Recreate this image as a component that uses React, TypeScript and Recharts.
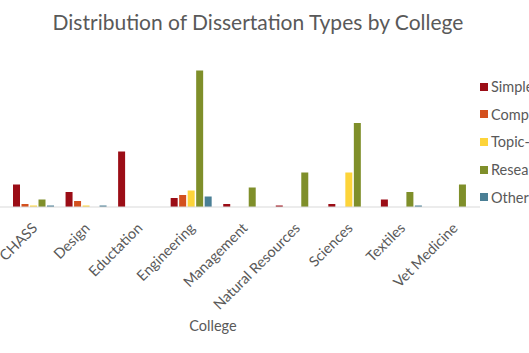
import { BarChart, Bar, XAxis, YAxis, Legend } from 'recharts'

const colleges = [
  'CHASS',
  'Design',
  'Eductation',
  'Engineering',
  'Management',
  'Natural Resources',
  'Sciences',
  'Textiles',
  'Vet Medicine',
]

const simpleTraditional = [15, 10, 37, 6, 2, 1, 2, 5, 0]
const complexTraditional = [2, 4, 0, 8, 0, 0, 0, 0, 0]
const topicBased = [1, 1, 0, 11, 0, 0, 23, 0, 0]
const researchArticles = [5, 0, 0, 91, 13, 23, 56, 10, 15]
const other = [1, 1, 0, 7, 0, 0, 0, 1, 0]

const seriesNames = ['Simple traditional', 'Complex traditional', 'Topic-based', 'Research articles', 'Other']
const colors = ['#9b0d16', '#d3501e', '#fdd43a', '#7f8f2a', '#4a7f95']

const data = colleges.map((college, i) => ({
  college,
  s0: simpleTraditional[i],
  s1: complexTraditional[i],
  s2: topicBased[i],
  s3: researchArticles[i],
  s4: other[i],
}))

const FONT = 'Lato, "Open Sans", sans-serif'
const GREY = '#595959'

// labels end a little right of the category centre, rotated like Excel's
function CollegeTick(props: any) {
  const { x, y, payload } = props
  return (
    <g transform={`translate(${x + 5},${y + 22})`}>
      <text x={0} y={0} textAnchor="end" transform="rotate(-45)" fontSize={14.5} fontFamily={FONT} fill={GREY}>
        {payload.value}
      </text>
    </g>
  )
}

function LegendContent(props: any) {
  const { payload } = props
  return (
    <ul style={{ listStyle: 'none', margin: 0, padding: 0, whiteSpace: 'nowrap' }}>
      {payload.map((item: any) => (
        <li
          key={item.value}
          style={{ height: 27.6, display: 'flex', alignItems: 'center', fontFamily: FONT, fontSize: 14.5, color: GREY }}
        >
          <span
            style={{ display: 'inline-block', flexShrink: 0, width: 8, height: 8, background: item.color, marginRight: 3 }}
          />
          {item.value}
        </li>
      ))}
    </ul>
  )
}

export default function App() {
  return (
    <div style={{ position: 'absolute', left: 0, top: 0, width: 529, height: 353, overflow: 'hidden', background: '#fff' }}>
      <div
        style={{
          position: 'absolute',
          left: 0,
          top: 9,
          width: 516,
          textAlign: 'center',
          fontFamily: FONT,
          fontSize: 21,
          color: GREY,
          zIndex: 1,
        }}
      >
        Distribution of Dissertation Types by College
      </div>
      <BarChart
        width={529}
        height={353}
        data={data}
        margin={{ top: 57, right: 0, left: 0, bottom: 0 }}
        barCategoryGap={6}
        barGap={1.5}
      >
        <XAxis
          dataKey="college"
          height={146}
          interval={0}
          padding={{ left: 7, right: 0 }}
          tickLine={false}
          tickSize={0}
          tickMargin={0}
          axisLine={{ stroke: '#d9d9d9' }}
          tick={<CollegeTick />}
          label={{ value: 'College', position: 'insideBottom', offset: 22, dx: -27, fontSize: 14.5, fontFamily: FONT, fill: GREY }}
        />
        <YAxis hide domain={[0, 100]} />
        <Legend
          layout="vertical"
          align="right"
          verticalAlign="top"
          itemSorter={null as any}
          content={<LegendContent />}
          wrapperStyle={{ left: 480, top: 73, width: 49 }}
        />
        {seriesNames.map((name, i) => (
          <Bar key={name} dataKey={`s${i}`} name={name} fill={colors[i]} isAnimationActive={false} />
        ))}
      </BarChart>
    </div>
  )
}
